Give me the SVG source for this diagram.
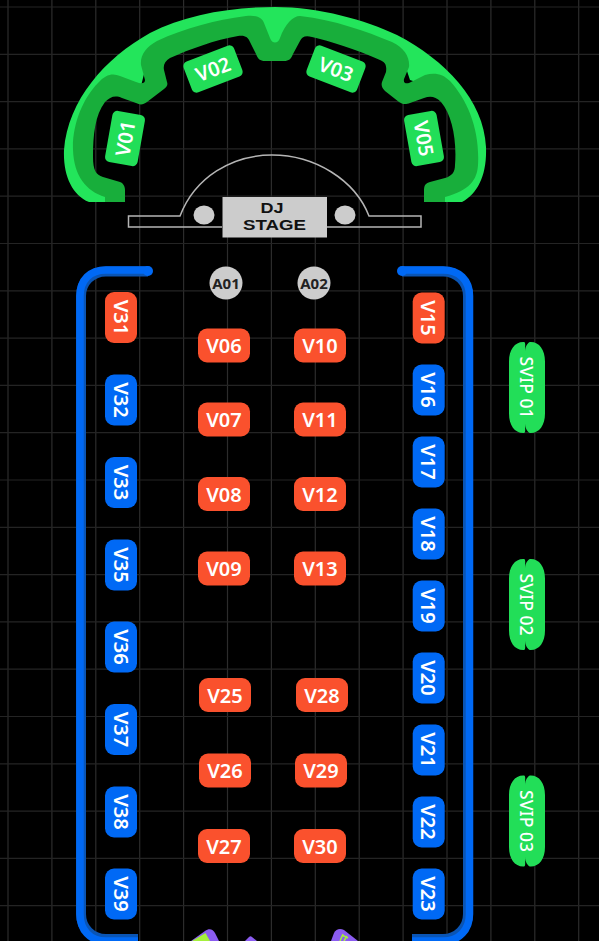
<svg xmlns="http://www.w3.org/2000/svg" width="599" height="941" viewBox="0 0 599 941">
<style>
.gv{stroke:#2c2c2c;stroke-width:1.200;fill:none}
.gh{stroke:#242424;stroke-width:1.200;fill:none}
text{font-family:"Noto Sans","Liberation Sans",sans-serif;font-weight:600;text-anchor:middle;fill:#fff;dominant-baseline:central}
.o{fill:#fa512d}.b{fill:#0069f5}.g{fill:#22de58}
.t{font-size:20px}
.sv{font-size:17.500px;font-weight:500}
.a{font-size:15px;fill:#222;font-weight:700}
.dj{font-family:"Liberation Sans",Arial,sans-serif;font-weight:700;fill:#111;font-size:14.500px;dominant-baseline:auto}
</style>
<defs>
<rect id="h" x="-26" y="-17" width="52" height="34" rx="9"/>
<rect id="v" x="-16" y="-25.500" width="32" height="51" rx="9"/>
<path id="s" d="M-3-45.500C-12-46-18-38-18-26V26C-18 38-12 46-3 45.500C-1 45-2 41-2 36V-36C-2-41-1-45-3-45.500ZM3-45.500C1-45-2-41-2-36V36C-2 41 1 45 3 45.500C12 46 18 38 18 26V-26C18-38 12-46 3-45.500Z"/>
</defs>
<rect width="599" height="941" fill="#000"/>
<g id="grid">
<path class="gv" d="M8 0V941M51.900 0V941M95.800 0V941M139.700 0V941M183.600 0V941M227.500 0V941M271.400 0V941M315.300 0V941M359.200 0V941M403.100 0V941M447 0V941M490.900 0V941M534.800 0V941M578.700 0V941"/>
<path class="gh" d="M0 7H599M0 54.300H599M0 101.600H599M0 148.900H599M0 196.200H599M0 243.500H599M0 290.800H599M0 338.100H599M0 385.400H599M0 432.700H599M0 480H599M0 527.300H599M0 574.600H599M0 621.900H599M0 669.200H599M0 716.500H599M0 763.800H599M0 811.100H599M0 858.400H599M0 905.700H599"/>
</g>
<g id="vip-arc">
<path fill="#23e55b" d="M89 202C72 195 63 175 64 150C68 100 105 58 150 33C185 15 230 7 275 7C320 7 365 20 397 35C445 60 484 100 486 147C487 175 478 193 462 202H445V190L465 165V130L440 90L410 80L400 50L300 25L275 50L250 25L150 50L140 90L110 90L85 130V165L105 195V202Z"/>
<path fill="#18ae3b" d="M105 202V197C86 191 74 176 73 150C72 125 83 98 98 83C106 74 113 73 120 76L136 82C141 84 145 84 145 80L141 65C140 55 146 47 157 41C185 28 215 20 246 16C256 15 262 17 264 23L270 38C272 44 278 44 280 38C285 24 293 16 300 16C335 20 365 31 392 42C405 48 410 58 409 67L404 79C403 83 406 84 409 83L425 75C435 72 443 74 450 81C468 101 480 130 478 165C477 180 470 190 445 197V202H424V190C424 185 426 183 430 182L445 178C452 176 455 172 455 165C457 140 452 115 441 102C435 96 430 96 424 98L410 103C405 105 402 104 399 102L385 91C382 88 381 85 382 82L386 72C387 65 385 62 380 60C355 49 330 41 312 37C305 35 302 37 300 41L293 54C291 59 289 61 284 61H265C260 61 258 59 256 54L250 42C248 37 245 35 238 36C215 40 190 49 170 58C165 61 163 65 164 70L167 82C168 85 167 87 164 89L147 102C143 105 140 105 136 103L122 98C115 95 110 97 105 102C95 115 93 135 93 157C93 170 96 175 103 177L120 182C123 183 125 186 125 190V202Z"/>
</g>
<g id="V01"><rect class="g" x="-26" y="-16.500" width="52" height="33" rx="5" transform="translate(125 138.500) rotate(-80)"/><text class="t" transform="translate(125 138.500) rotate(-80)">V01</text></g>
<g id="V02"><rect class="g" x="-27" y="-16.500" width="54" height="33" rx="5" transform="translate(213 69) rotate(-21)"/><text class="t" transform="translate(213 69) rotate(-21)">V02</text></g>
<g id="V03"><rect class="g" x="-27" y="-16.500" width="54" height="33" rx="5" transform="translate(336 69) rotate(21)"/><text class="t" transform="translate(336 69) rotate(21)">V03</text></g>
<g id="V05"><rect class="g" x="-26" y="-16.500" width="52" height="33" rx="5" transform="translate(424 138.500) rotate(80)"/><text class="t" transform="translate(424 138.500) rotate(80)">V05</text></g>
<g id="dj-stage">
<path fill="none" stroke="#b5b5b5" stroke-width="1.500" d="M222 227H128.500V216H180C195 177 232 155 272 155C315 155 355 180 369 216H421V227H327"/>
<rect x="222.500" y="197" width="104.500" height="40.500" fill="#ccc"/>
<ellipse cx="204" cy="215" rx="10.500" ry="9.500" fill="#ccc"/>
<ellipse cx="345" cy="215" rx="10.500" ry="9.500" fill="#ccc"/>
<text class="dj" x="272" y="213" textLength="23" lengthAdjust="spacingAndGlyphs">DJ</text>
<text class="dj" x="274.500" y="229.500" textLength="63" lengthAdjust="spacingAndGlyphs">STAGE</text>
</g>
<g id="connectors">
<g id="barrier" fill="none" stroke-width="10">
<path stroke="#0a55b5" d="M148 271.500H106C92 271.500 81 282 81 296V914C81 928 92 939 106 939H138M402 271.500H443C457 271.500 468 282 468 296V914C468 928 457 939 443 939H412"/>
<path stroke="#0069f5" stroke-width="7.500" d="M148 270H106C90 270 80 280 80 296V914C80 930 90 941 106 941H138M402 270H443C459 270 469.500 280 469.500 296V914C469.500 930 459 941 443 941H412"/>
<path stroke="#0069f5" stroke-width="3" d="M81 296V914"/>
<circle cx="148" cy="271" r="5" fill="#0069f5" stroke="none"/>
<circle cx="402" cy="271" r="5" fill="#0069f5" stroke="none"/>
</g>
</g>
<g id="A01"><circle cx="226" cy="283" r="16.500" fill="#ccc"/><text class="a" x="226" y="283">A01</text></g>
<g id="A02"><circle cx="314" cy="283" r="16.500" fill="#ccc"/><text class="a" x="314" y="283">A02</text></g>
<g id="V06"><use href="#h" class="o" x="224" y="345.500"/><text class="t" x="224" y="345.500">V06</text></g>
<g id="V07"><use href="#h" class="o" x="224" y="419.500"/><text class="t" x="224" y="419.500">V07</text></g>
<g id="V08"><use href="#h" class="o" x="224" y="494"/><text class="t" x="224" y="494">V08</text></g>
<g id="V09"><use href="#h" class="o" x="224" y="568.500"/><text class="t" x="224" y="568.500">V09</text></g>
<g id="V10"><use href="#h" class="o" x="320" y="345.500"/><text class="t" x="320" y="345.500">V10</text></g>
<g id="V11"><use href="#h" class="o" x="320" y="419.500"/><text class="t" x="320" y="419.500">V11</text></g>
<g id="V12"><use href="#h" class="o" x="320" y="494"/><text class="t" x="320" y="494">V12</text></g>
<g id="V13"><use href="#h" class="o" x="320" y="568.500"/><text class="t" x="320" y="568.500">V13</text></g>
<g id="V25"><use href="#h" class="o" x="225" y="695"/><text class="t" x="225" y="695">V25</text></g>
<g id="V26"><use href="#h" class="o" x="225" y="770.500"/><text class="t" x="225" y="770.500">V26</text></g>
<g id="V27"><use href="#h" class="o" x="224" y="846"/><text class="t" x="224" y="846">V27</text></g>
<g id="V28"><use href="#h" class="o" x="322" y="695"/><text class="t" x="322" y="695">V28</text></g>
<g id="V29"><use href="#h" class="o" x="321" y="770.500"/><text class="t" x="321" y="770.500">V29</text></g>
<g id="V30"><use href="#h" class="o" x="320" y="846"/><text class="t" x="320" y="846">V30</text></g>
<g id="V31"><use href="#v" class="o" x="121" y="317.500"/><text class="t" transform="translate(121 317.500) rotate(90)">V31</text></g>
<g id="V32"><use href="#v" class="b" x="121" y="400"/><text class="t" transform="translate(121 400) rotate(90)">V32</text></g>
<g id="V33"><use href="#v" class="b" x="121" y="482.500"/><text class="t" transform="translate(121 482.500) rotate(90)">V33</text></g>
<g id="V35"><use href="#v" class="b" x="121" y="565"/><text class="t" transform="translate(121 565) rotate(90)">V35</text></g>
<g id="V36"><use href="#v" class="b" x="121" y="647"/><text class="t" transform="translate(121 647) rotate(90)">V36</text></g>
<g id="V37"><use href="#v" class="b" x="121" y="729.500"/><text class="t" transform="translate(121 729.500) rotate(90)">V37</text></g>
<g id="V38"><use href="#v" class="b" x="121" y="812"/><text class="t" transform="translate(121 812) rotate(90)">V38</text></g>
<g id="V39"><use href="#v" class="b" x="121" y="894"/><text class="t" transform="translate(121 894) rotate(90)">V39</text></g>
<g id="V15"><use href="#v" class="o" x="428.700" y="318"/><text class="t" transform="translate(428.700 318) rotate(90)">V15</text></g>
<g id="V16"><use href="#v" class="b" x="428.700" y="390"/><text class="t" transform="translate(428.700 390) rotate(90)">V16</text></g>
<g id="V17"><use href="#v" class="b" x="428.700" y="462"/><text class="t" transform="translate(428.700 462) rotate(90)">V17</text></g>
<g id="V18"><use href="#v" class="b" x="428.700" y="534"/><text class="t" transform="translate(428.700 534) rotate(90)">V18</text></g>
<g id="V19"><use href="#v" class="b" x="428.700" y="606"/><text class="t" transform="translate(428.700 606) rotate(90)">V19</text></g>
<g id="V20"><use href="#v" class="b" x="428.700" y="678"/><text class="t" transform="translate(428.700 678) rotate(90)">V20</text></g>
<g id="V21"><use href="#v" class="b" x="428.700" y="750"/><text class="t" transform="translate(428.700 750) rotate(90)">V21</text></g>
<g id="V22"><use href="#v" class="b" x="428.700" y="822"/><text class="t" transform="translate(428.700 822) rotate(90)">V22</text></g>
<g id="V23"><use href="#v" class="b" x="428.700" y="894"/><text class="t" transform="translate(428.700 894) rotate(90)">V23</text></g>
<g id="SVIP01"><use href="#s" class="g" x="527" y="387.500"/><text class="sv" transform="translate(527 387.500) rotate(90)">SVIP 01</text></g>
<g id="SVIP02"><use href="#s" class="g" x="527" y="604.500"/><text class="sv" transform="translate(527 604.500) rotate(90)">SVIP 02</text></g>
<g id="SVIP03"><use href="#s" class="g" x="527" y="821"/><text class="sv" transform="translate(527 821) rotate(90)">SVIP 03</text></g>
<g id="bottom-seats">
<path fill="#8b5cf0" d="M191 941L205 931C209 928 213 929 215 933L219 941Z"/>
<path fill="#a5f03c" d="M192 941L205.500 933L210 941Z"/>
<path fill="#8b5cf0" d="M245 941L249 937C250 936 251 936 252 937L257 941Z"/>
<path fill="#8b5cf0" d="M331 941L334 933C336 929 340 928 344 930L358 941Z"/>
<path fill="none" stroke="#a5f03c" stroke-width="1.500" d="M340 941L343 934M344 941L347 936M342 935L348 938"/>
</g>
</svg>
